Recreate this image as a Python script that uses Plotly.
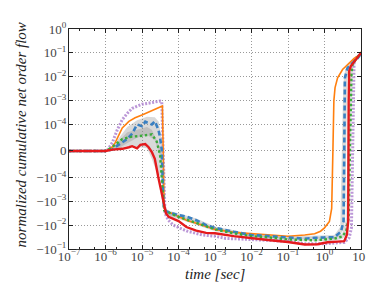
import numpy as np
import plotly.graph_objects as go

# ---- data (log10 of time in seconds, and normalized cumulative net order flow) ----
orange_logt = [-7, -6.0, -5.946, -5.811, -5.73, -5.541, -5.359, -5.189, -5.0, -4.73, -4.505, -4.441,
               -4.392, -4.324, -4.189, -4.0, -3.784, -3.514, -3.243, -3.0, -2.486, -2.0, -1.486, -1.0,
               -0.541, -0.27, -0.108, 0.0, 0.135, 0.197, 0.23, 0.257, 0.289, 0.359, 0.495, 0.63, 0.811,
               0.946, 1.0]
orange_val = [0, 0, 3e-6, 1.5e-5, 3.2e-5, 8.7e-5, 1.35e-4, 1.9e-4, 2.5e-4, 3.8e-4, 5.5e-4, 5.9e-4,
              -2e-3, -2.7e-3, -3.2e-3, -4.4e-3, -6.2e-3, -8.3e-3, -1.15e-2, -1.5e-2, -2.0e-2, -2.3e-2,
              -2.7e-2, -2.9e-2, -2.6e-2, -2.3e-2, -1.8e-2, -1.3e-2, -7e-3, -2e-3, 0, 1e-3, 3.5e-3, 9e-3,
              2e-2, 3.1e-2, 5.9e-2, 8e-2, 0.11]

blue_logt = [-7, -6.0, -5.811, -5.676, -5.405, -5.27, -5.135, -5.0, -4.911, -4.865, -4.73, -4.649,
             -4.549, -4.505, -4.459, -4.419, -4.392, -4.324, -4.189, -4.0, -3.784, -3.514, -3.243, -3.0,
             -2.486, -2.0, -1.486, -1.0, -0.541, -0.27, 0.0, 0.27, 0.451, 0.522, 0.541, 0.559, 0.63,
             0.722, 0.857, 0.946, 1.0]
blue_val = [0, 0, 5e-6, 2e-5, 4.5e-5, 6.5e-5, 1.0e-4, 9.3e-5, 1.3e-4, 1.2e-4, 1.0e-4, 1.35e-4,
            8e-5, 5e-5, 5e-6, -8e-4, -2.2e-3, -2.7e-3, -3.2e-3, -3.8e-3, -4.4e-3, -6.2e-3, -1.0e-2,
            -1.3e-2, -1.9e-2, -2.6e-2, -2.9e-2, -3.4e-2, -3.7e-2, -3.4e-2, -3.2e-2, -3.2e-2, -1.9e-2,
            -7e-3, 0, 9e-3, 2.3e-2, 3.3e-2, 5e-2, 7e-2, 0.1]

green_logt = [-7, -6.0, -5.811, -5.541, -5.27, -5.0, -4.73, -4.595, -4.505, -4.459, -4.419, -4.392,
              -4.324, -4.189, -4.0, -3.784, -3.514, -3.243, -3.0, -2.486, -2.0, -1.486, -1.0, -0.541,
              -0.27, 0.0, 0.27, 0.486, 0.595, 0.662, 0.689, 0.716, 0.738, 0.770, 0.865, 0.946, 1.0]
green_val = [0, 0, 1.5e-5, 4.5e-5, 5.4e-5, 5.7e-5, 6.3e-5, 3.5e-5, -1.6e-5, -1.5e-4, -1.2e-3, -2.4e-3,
             -2.6e-3, -3.4e-3, -4.5e-3, -5.8e-3, -8e-3, -1.1e-2, -1.5e-2, -2.2e-2, -2.9e-2, -3.3e-2,
             -4.0e-2, -4.2e-2, -4.3e-2, -4.0e-2, -3.7e-2, -3.0e-2, -1.8e-2, -5e-3, 0, 1.5e-3, 1.2e-2,
             3.5e-2, 5.5e-2, 8e-2, 0.1]

red_logt = [-7, -6.0, -5.811, -5.541, -5.359, -5.27, -5.135, -5.046, -4.911, -4.819, -4.73, -4.649,
            -4.549, -4.459, -4.41, -4.343, -4.27, -4.189, -4.0, -3.784, -3.514, -3.243, -3.0, -2.486,
            -2.0, -1.486, -1.0, -0.541, -0.189, 0.081, 0.359, 0.541, 0.614, 0.649, 0.662, 0.676, 0.722,
            0.811, 0.946, 1.0]
red_val = [0, 0, 5e-6, 8e-6, 1.4e-5, 1.8e-5, 1e-5, 2.3e-5, 2.6e-5, 1.4e-5, -4e-6, -3e-5, -1.05e-4,
           -4.3e-4, -1.1e-3, -3.2e-3, -4.5e-3, -5.2e-3, -6.8e-3, -1.2e-2, -1.7e-2, -2.1e-2, -2.2e-2,
           -2.9e-2, -3.6e-2, -4.3e-2, -5.1e-2, -6.5e-2, -6.3e-2, -5.2e-2, -4.9e-2, -4.7e-2, -2.5e-2,
           -7e-3, 1e-3, 1.7e-2, 2.8e-2, 4.3e-2, 8e-2, 0.1]

purple_logt = [-7, -6.0, -5.946, -5.811, -5.676, -5.541, -5.405, -5.27, -5.135, -5.0, -4.73, -4.505,
               -4.459, -4.37, -4.278, -4.143, -3.784, -3.332, -3.0, -2.703, -2.0, -1.0, -0.541, 0.0,
               0.541, 0.676, 0.738, 0.765, 0.784, 0.811, 0.946, 1.0]
purple_val = [0, 0, 3e-6, 3.2e-5, 8e-5, 1.58e-4, 2.9e-4, 4.7e-4, 5.8e-4, 7e-4, 8.2e-4, 9.6e-4, 8.9e-4,
              -3.2e-3, -6.2e-3, -1.0e-2, -1.75e-2, -2.6e-2, -2.9e-2, -3.6e-2, -4e-2, -4.8e-2, -6e-2,
              -6e-2, -5.3e-2, -3.4e-2, -1.3e-2, 0, 5e-3, 5e-2, 8e-2, 9e-2]

bandA_logt = [-7, -6.0, -5.811, -5.676, -5.405, -5.135, -4.865, -4.649, -4.541, -4.459, -4.419, -4.378,
              -4.270, -4.0, -3.514, -3.0, -2.0, -1.0, 0.0, 0.270, 0.432, 0.514, 0.568, 0.622, 0.730,
              0.865, 1.0]
bandA_hi = [0, 0, 1.5e-5, 4e-5, 9e-5, 1.5e-4, 2.1e-4, 2.0e-4, 1.3e-4, 4e-5, -3e-4, -1.8e-3, -2.5e-3,
            -3.2e-3, -5.3e-3, -1.15e-2, -2.3e-2, -3.0e-2, -2.6e-2, -2.6e-2, -1.2e-2, 5e-3, 2e-2, 2.8e-2,
            4e-2, 6e-2, 0.11]
bandA_lo = [0, 0, 2e-6, 8e-6, 3e-5, 5e-5, 6e-5, 4e-5, 0, -6e-5, -1.2e-3, -3e-3, -4e-3, -4.8e-3,
            -7.5e-3, -1.5e-2, -3e-2, -3.8e-2, -3.5e-2, -3.6e-2, -2.8e-2, -1.5e-2, -5e-3, 8e-3, 2.8e-2,
            4.5e-2, 0.09]

bandB_logt = [-7, -6.0, -5.811, -5.676, -5.405, -5.135, -4.865, -4.730, -4.595, -4.459, -4.419, -4.378,
              -4.270, -4.0, -3.514, -3.0, -2.0, -1.0, 0.0, 0.270, 0.486, 0.595, 0.662, 0.716, 0.770,
              0.865, 1.0]
bandB_hi = [0, 0, 1e-5, 3e-5, 7e-5, 8e-5, 9e-5, 8e-5, 4e-5, 0, -5e-4, -2e-3, -2.8e-3, -3.8e-3, -6.8e-3,
            -1.3e-2, -2.5e-2, -3.4e-2, -3.4e-2, -3.2e-2, -2.3e-2, -5e-3, 1e-2, 3e-2, 4.5e-2, 6e-2, 0.1]
bandB_lo = [0, 0, 0, 5e-6, 2e-5, 1.5e-5, 1e-5, -3e-5, -8e-5, -1e-4, -1.5e-3, -3.5e-3, -4.5e-3,
            -5.5e-3, -9.5e-3, -1.8e-2, -3.4e-2, -4.5e-2, -4.7e-2, -4.4e-2, -3.8e-2, -2.5e-2, -8e-3, 0,
            2e-2, 4.5e-2, 0.085]

ytick_values = [1, 1e-1, 1e-2, 1e-3, 1e-4, 0, -1e-4, -1e-3, -1e-2, -1e-1]
ytick_labels = ["10<sup>0</sup>", "10<sup>−1</sup>", "10<sup>−2</sup>", "10<sup>−3</sup>",
                "10<sup>−4</sup>", "0", "−10<sup>−4</sup>", "−10<sup>−3</sup>", "−10<sup>−2</sup>",
                "−10<sup>−1</sup>"]
xtick_exps = [-7, -6, -5, -4, -3, -2, -1, 0, 1]

# ---- symlog transform (linthresh 1e-4, linscale 1, base 10) ----
LINTHRESH = 1e-4
LINSCALE_ADJ = 1.0 / (1.0 - 0.1)


def symlog(v):
    v = np.asarray(v, dtype=float)
    a = np.abs(v)
    out = np.where(a <= LINTHRESH, v / LINTHRESH * LINSCALE_ADJ,
                   np.sign(v) * (LINSCALE_ADJ + np.log10(np.maximum(a, LINTHRESH) / LINTHRESH)))
    return out


def t(logt):
    return 10 ** np.asarray(logt, dtype=float)


fig = go.Figure()
band_color = "rgba(140,140,140,0.33)"
for lt, hi, lo in [(bandB_logt, bandB_hi, bandB_lo), (bandA_logt, bandA_hi, bandA_lo)]:
    fig.add_trace(go.Scatter(x=t(lt), y=symlog(hi), mode="lines", line=dict(width=0),
                             hoverinfo="skip", showlegend=False))
    fig.add_trace(go.Scatter(x=t(lt), y=symlog(lo), mode="lines", line=dict(width=0),
                             fill="tonexty", fillcolor=band_color, hoverinfo="skip", showlegend=False))

fig.add_trace(go.Scatter(x=t(purple_logt), y=symlog(purple_val), mode="lines",
                         line=dict(color="rgba(170,125,205,0.8)", width=3, dash="2px,1.5px"),
                         showlegend=False))
fig.add_trace(go.Scatter(x=t(orange_logt), y=symlog(orange_val), mode="lines",
                         line=dict(color="#ff7f0e", width=1.6), showlegend=False))
fig.add_trace(go.Scatter(x=t(blue_logt), y=symlog(blue_val), mode="lines",
                         line=dict(color="#3a80c2", width=2.6, dash="5px,3px"), showlegend=False))
fig.add_trace(go.Scatter(x=t(green_logt), y=symlog(green_val), mode="lines",
                         line=dict(color="#3aaa3a", width=2.4, dash="2.5px,2.5px"), showlegend=False))
fig.add_trace(go.Scatter(x=t(red_logt), y=symlog(red_val), mode="lines",
                         line=dict(color="#e41a1c", width=2.4), showlegend=False))

tick_font = dict(family="Liberation Serif", size=13, color="#444444")
fig.update_layout(
    width=374, height=282,
    margin=dict(l=61, r=17, t=14, b=41),
    paper_bgcolor="white", plot_bgcolor="white",
    font=tick_font,
    xaxis=dict(type="log", range=[-7, 1], tickvals=[10.0 ** e for e in xtick_exps],
               ticktext=["10<sup>%s</sup>" % (str(e).replace("-", "−")) for e in xtick_exps],
               showline=True, linecolor="#222", linewidth=1, mirror="allticks",
               ticks="inside", ticklen=4, tickcolor="#222", ticklabelstandoff=-5,
               showgrid=True, gridcolor="#999999", griddash="1px,2px", gridwidth=1,
               minor=dict(ticks="inside", ticklen=2, tickcolor="#222", showgrid=False),
               zeroline=False, tickfont=tick_font),
    yaxis=dict(range=[float(symlog(-0.1)), float(symlog(1.0))],
               tickvals=list(symlog(ytick_values)), ticktext=ytick_labels,
               showline=True, linecolor="#222", linewidth=1, mirror="allticks",
               ticks="inside", ticklen=4, tickcolor="#222", ticklabelstandoff=-1,
               showgrid=True, gridcolor="#999999", griddash="1px,2px", gridwidth=1,
               zeroline=False, tickfont=tick_font),
    annotations=[
        dict(text="time [sec]", x=0.5, y=-0.115, xref="paper", yref="paper",
             showarrow=False, font=dict(family="Liberation Serif", size=15, color="#222"),
             xanchor="center", yanchor="middle"),
        dict(text="normalized cumulative net order flow", x=-0.165, y=0.52, xref="paper",
             yref="paper", textangle=-90, showarrow=False,
             font=dict(family="Liberation Serif", size=15, color="#222"),
             xanchor="center", yanchor="middle"),
    ],
)
for a in fig.layout.annotations:
    a.font.style = "italic"

fig.write_html("out.html")
